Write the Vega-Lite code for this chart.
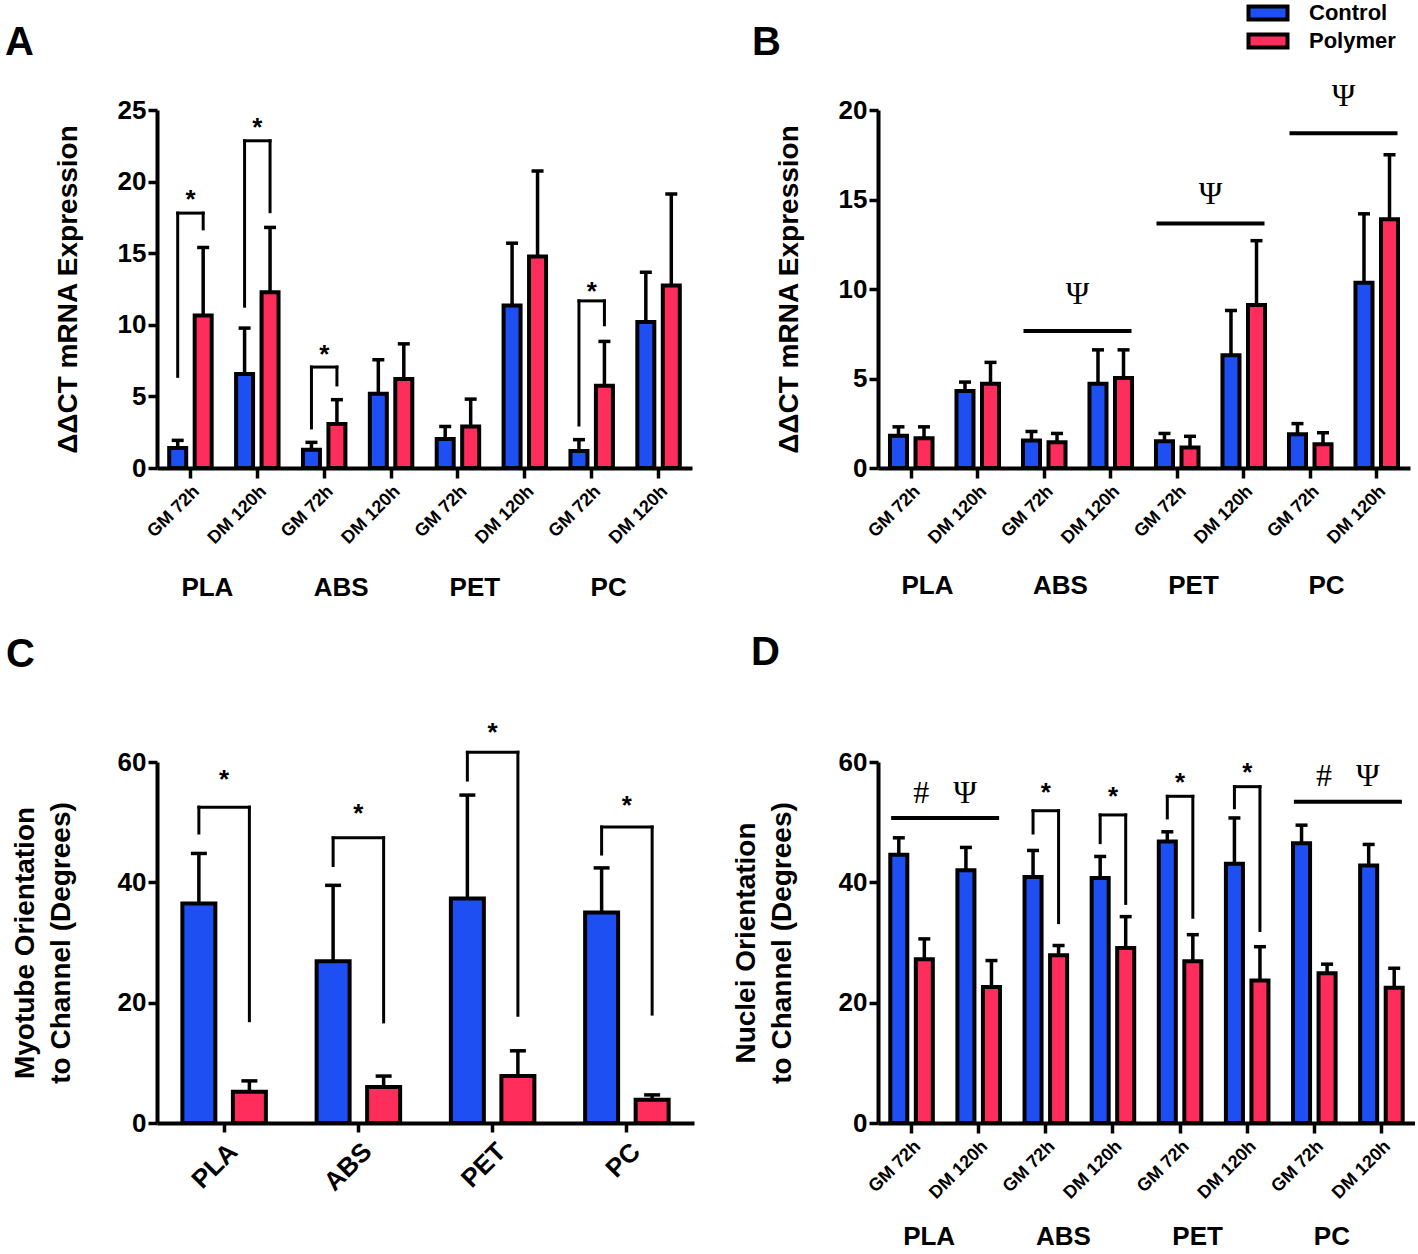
{
  "$schema": "https://vega.github.io/schema/vega-lite/v6.json",
  "padding": {"left": 5, "top": 2, "right": 0, "bottom": 0},
  "background": "white",
  "bounds": "flush",
  "columns": 2,
  "spacing": {"row": 294, "column": 184},
  "resolve": {"scale": {"xOffset": "independent"}},
  "datasets": {
    "mats": [{"material": "PLA"}, {"material": "ABS"}, {"material": "PET"}, {"material": "PC"}],
    "aBars": [
      {"cat": "PLA|GM 72h", "series": "Control", "value": 1.4, "err": 1.93},
      {"cat": "PLA|GM 72h", "series": "Polymer", "value": 10.65, "err": 15.4},
      {"cat": "PLA|DM 120h", "series": "Control", "value": 6.56, "err": 9.77},
      {"cat": "PLA|DM 120h", "series": "Polymer", "value": 12.28, "err": 16.8},
      {"cat": "ABS|GM 72h", "series": "Control", "value": 1.28, "err": 1.79},
      {"cat": "ABS|GM 72h", "series": "Polymer", "value": 3.07, "err": 4.77},
      {"cat": "ABS|DM 120h", "series": "Control", "value": 5.19, "err": 7.56},
      {"cat": "ABS|DM 120h", "series": "Polymer", "value": 6.21, "err": 8.67},
      {"cat": "PET|GM 72h", "series": "Control", "value": 2.02, "err": 2.9},
      {"cat": "PET|GM 72h", "series": "Polymer", "value": 2.9, "err": 4.81},
      {"cat": "PET|DM 120h", "series": "Control", "value": 11.35, "err": 15.7},
      {"cat": "PET|DM 120h", "series": "Polymer", "value": 14.77, "err": 20.74},
      {"cat": "PC|GM 72h", "series": "Control", "value": 1.19, "err": 1.98},
      {"cat": "PC|GM 72h", "series": "Polymer", "value": 5.74, "err": 8.84},
      {"cat": "PC|DM 120h", "series": "Control", "value": 10.19, "err": 13.67},
      {"cat": "PC|DM 120h", "series": "Polymer", "value": 12.74, "err": 19.14}
    ],
    "aLegs": [
      {"cat": "PLA|GM 72h", "series": "Control", "lo": 6.4, "hi": 17.8},
      {"cat": "PLA|GM 72h", "series": "Polymer", "lo": 16.7, "hi": 17.8},
      {"cat": "PLA|DM 120h", "series": "Control", "lo": 11.3, "hi": 22.85},
      {"cat": "PLA|DM 120h", "series": "Polymer", "lo": 17.9, "hi": 22.85},
      {"cat": "ABS|GM 72h", "series": "Control", "lo": 2.8, "hi": 7.05},
      {"cat": "ABS|GM 72h", "series": "Polymer", "lo": 5.8, "hi": 7.05},
      {"cat": "PC|GM 72h", "series": "Control", "lo": 3.0, "hi": 11.67},
      {"cat": "PC|GM 72h", "series": "Polymer", "lo": 10.0, "hi": 11.67}
    ],
    "aTops": [
      {"cat": "PLA|GM 72h", "top": 17.8, "star": 19.2},
      {"cat": "PLA|DM 120h", "top": 22.85, "star": 24.2},
      {"cat": "ABS|GM 72h", "top": 7.05, "star": 8.4},
      {"cat": "PC|GM 72h", "top": 11.67, "star": 12.8}
    ],
    "bBars": [
      {"cat": "PLA|GM 72h", "series": "Control", "value": 1.8, "err": 2.3},
      {"cat": "PLA|GM 72h", "series": "Polymer", "value": 1.66, "err": 2.3},
      {"cat": "PLA|DM 120h", "series": "Control", "value": 4.3, "err": 4.8},
      {"cat": "PLA|DM 120h", "series": "Polymer", "value": 4.7, "err": 5.9},
      {"cat": "ABS|GM 72h", "series": "Control", "value": 1.53, "err": 2.04},
      {"cat": "ABS|GM 72h", "series": "Polymer", "value": 1.44, "err": 1.93},
      {"cat": "ABS|DM 120h", "series": "Control", "value": 4.7, "err": 6.6},
      {"cat": "ABS|DM 120h", "series": "Polymer", "value": 5.03, "err": 6.6},
      {"cat": "PET|GM 72h", "series": "Control", "value": 1.49, "err": 1.93},
      {"cat": "PET|GM 72h", "series": "Polymer", "value": 1.15, "err": 1.77},
      {"cat": "PET|DM 120h", "series": "Control", "value": 6.3, "err": 8.8},
      {"cat": "PET|DM 120h", "series": "Polymer", "value": 9.1, "err": 12.7},
      {"cat": "PC|GM 72h", "series": "Control", "value": 1.88, "err": 2.48},
      {"cat": "PC|GM 72h", "series": "Polymer", "value": 1.33, "err": 1.97},
      {"cat": "PC|DM 120h", "series": "Control", "value": 10.35, "err": 14.2},
      {"cat": "PC|DM 120h", "series": "Polymer", "value": 13.9, "err": 17.5}
    ],
    "bPsi": [
      {"material": "ABS", "line": 7.65, "mark": 9.7, "label": "Ψ"},
      {"material": "PET", "line": 13.66, "mark": 15.3, "label": "Ψ"},
      {"material": "PC", "line": 18.7, "mark": 20.8, "label": "Ψ"}
    ],
    "cBars": [
      {"material": "PLA", "series": "Control", "value": 36.5, "err": 44.8},
      {"material": "PLA", "series": "Polymer", "value": 5.2, "err": 7.0},
      {"material": "ABS", "series": "Control", "value": 26.9, "err": 39.5},
      {"material": "ABS", "series": "Polymer", "value": 6.0, "err": 7.8},
      {"material": "PET", "series": "Control", "value": 37.3, "err": 54.5},
      {"material": "PET", "series": "Polymer", "value": 7.8, "err": 12.0},
      {"material": "PC", "series": "Control", "value": 35.0, "err": 42.4},
      {"material": "PC", "series": "Polymer", "value": 3.86, "err": 4.67}
    ],
    "cLegs": [
      {"material": "PLA", "series": "Control", "lo": 48.2, "hi": 52.5},
      {"material": "PLA", "series": "Polymer", "lo": 17.0, "hi": 52.5},
      {"material": "ABS", "series": "Control", "lo": 42.8, "hi": 47.4},
      {"material": "ABS", "series": "Polymer", "lo": 16.8, "hi": 47.4},
      {"material": "PET", "series": "Control", "lo": 57.0, "hi": 61.6},
      {"material": "PET", "series": "Polymer", "lo": 17.9, "hi": 61.6},
      {"material": "PC", "series": "Control", "lo": 44.7, "hi": 49.2},
      {"material": "PC", "series": "Polymer", "lo": 18.1, "hi": 49.2}
    ],
    "cTops": [
      {"material": "PLA", "top": 52.5, "star": 58.1},
      {"material": "ABS", "top": 47.4, "star": 52.6},
      {"material": "PET", "top": 61.6, "star": 66.0},
      {"material": "PC", "top": 49.2, "star": 53.9}
    ],
    "dBars": [
      {"cat": "PLA|GM 72h", "series": "Control", "value": 44.6, "err": 47.4},
      {"cat": "PLA|GM 72h", "series": "Polymer", "value": 27.2, "err": 30.6},
      {"cat": "PLA|DM 120h", "series": "Control", "value": 42.0, "err": 45.8},
      {"cat": "PLA|DM 120h", "series": "Polymer", "value": 22.6, "err": 27.0},
      {"cat": "ABS|GM 72h", "series": "Control", "value": 40.9, "err": 45.3},
      {"cat": "ABS|GM 72h", "series": "Polymer", "value": 27.9, "err": 29.5},
      {"cat": "ABS|DM 120h", "series": "Control", "value": 40.7, "err": 44.3},
      {"cat": "ABS|DM 120h", "series": "Polymer", "value": 29.1, "err": 34.3},
      {"cat": "PET|GM 72h", "series": "Control", "value": 46.8, "err": 48.4},
      {"cat": "PET|GM 72h", "series": "Polymer", "value": 26.9, "err": 31.3},
      {"cat": "PET|DM 120h", "series": "Control", "value": 43.1, "err": 50.7},
      {"cat": "PET|DM 120h", "series": "Polymer", "value": 23.7, "err": 29.3},
      {"cat": "PC|GM 72h", "series": "Control", "value": 46.5, "err": 49.5},
      {"cat": "PC|GM 72h", "series": "Polymer", "value": 24.9, "err": 26.4},
      {"cat": "PC|DM 120h", "series": "Control", "value": 42.8, "err": 46.3},
      {"cat": "PC|DM 120h", "series": "Polymer", "value": 22.5, "err": 25.7}
    ],
    "dLegs": [
      {"cat": "ABS|GM 72h", "series": "Control", "lo": 48.2, "hi": 51.9},
      {"cat": "ABS|GM 72h", "series": "Polymer", "lo": 33.3, "hi": 51.9},
      {"cat": "ABS|DM 120h", "series": "Control", "lo": 46.6, "hi": 51.2},
      {"cat": "ABS|DM 120h", "series": "Polymer", "lo": 36.5, "hi": 51.2},
      {"cat": "PET|GM 72h", "series": "Control", "lo": 50.7, "hi": 54.3},
      {"cat": "PET|GM 72h", "series": "Polymer", "lo": 34.2, "hi": 54.3},
      {"cat": "PET|DM 120h", "series": "Control", "lo": 52.4, "hi": 55.9},
      {"cat": "PET|DM 120h", "series": "Polymer", "lo": 32.0, "hi": 55.9}
    ],
    "dTops": [
      {"cat": "ABS|GM 72h", "top": 51.9, "star": 56.0},
      {"cat": "ABS|DM 120h", "top": 51.2, "star": 55.3},
      {"cat": "PET|GM 72h", "top": 54.3, "star": 57.6},
      {"cat": "PET|DM 120h", "top": 55.9, "star": 59.3}
    ],
    "dPsi": [
      {"material": "PLA", "line": 50.7, "mark": 54.9, "label": "#\u00a0\u00a0\u00a0Ψ"},
      {"material": "PC", "line": 53.4, "mark": 57.6, "label": "#\u00a0\u00a0\u00a0Ψ"}
    ]
  },
  "concat": [
    {
      "width": 535,
      "height": 358,
      "title": {"text": "A", "anchor": "start", "frame": "group", "dx": -152, "offset": 2, "baseline": "alphabetic"},
      "resolve": {"scale": {"x": "independent"}},
      "layer": [
        {
          "encoding": {
            "x": {"field": "cat", "type": "nominal", "scale": {"domain": ["PLA|GM 72h", "PLA|DM 120h", "ABS|GM 72h", "ABS|DM 120h", "PET|GM 72h", "PET|DM 120h", "PC|GM 72h", "PC|DM 120h"], "paddingInner": 0.365, "paddingOuter": 0.1825},
              "axis": {"orient": "bottom", "title": null, "labelExpr": "split(datum.label, '|')[1]", "labelAngle": -45, "labelFontSize": 18, "tickSize": 10, "labelPadding": 4, "labelDx": -10}},
            "xOffset": {"field": "series", "type": "nominal", "scale": {"domain": ["Control", "Polymer"], "paddingInner": 0.333}}
          },
          "layer": [
            {"data": {"name": "aBars"}, "mark": {"type": "rule", "color": "black", "strokeWidth": 3.5},
              "encoding": {"y": {"field": "value", "type": "quantitative", "scale": {"domain": [0, 25], "nice": false},
                "axis": {"values": [0, 5, 10, 15, 20, 25], "title": "ΔΔCT mRNA Expression", "titlePadding": 35}}, "y2": {"field": "err"}}},
            {"data": {"name": "aBars"}, "mark": {"type": "tick", "color": "black", "size": 12, "thickness": 3.5, "opacity": 1},
              "encoding": {"y": {"field": "err", "type": "quantitative"}}},
            {"data": {"name": "aBars"}, "mark": {"type": "bar", "stroke": "black", "strokeWidth": 4, "opacity": 1},
              "encoding": {"y": {"field": "value", "type": "quantitative"},
                "color": {"field": "series", "type": "nominal", "scale": {"domain": ["Control", "Polymer"], "range": ["#1d4ff2", "#ff2d5b"]},
                  "legend": {"orient": "none", "legendX": 1100, "legendY": -108, "title": null, "symbolType": "M-2.1667,-0.7222H2.1667V0.7222H-2.1667Z", "symbolSize": 324, "symbolStrokeColor": "black", "symbolStrokeWidth": 4, "symbolOpacity": 1, "labelFontSize": 22, "labelFontWeight": "bold", "labelColor": "black", "labelOffset": 30, "rowPadding": -2, "padding": 0}}}},
            {"data": {"name": "aLegs"}, "mark": {"type": "rule", "color": "black", "strokeWidth": 3, "strokeCap": "square"},
              "encoding": {"y": {"field": "lo", "type": "quantitative"}, "y2": {"field": "hi"}}},
            {"data": {"name": "aTops"}, "mark": {"type": "tick", "color": "black", "size": 28.5, "thickness": 3, "opacity": 1},
              "encoding": {"xOffset": null, "y": {"field": "top", "type": "quantitative"}}},
            {"data": {"name": "aTops"}, "mark": {"type": "text", "text": "*", "fontSize": 26, "fontWeight": "bold", "baseline": "middle", "dy": 7, "color": "black"},
              "encoding": {"xOffset": null, "y": {"field": "star", "type": "quantitative"}}}
          ]
        },
        {
          "data": {"name": "mats"},
          "mark": {"type": "text", "text": ""},
          "encoding": {
            "x": {"field": "material", "type": "nominal", "scale": {"domain": ["PLA", "ABS", "PET", "PC"], "paddingInner": 0, "paddingOuter": 0},
              "axis": {"orient": "bottom", "title": null, "ticks": false, "tickSize": 0, "domain": false, "labelAngle": 0, "labelFontSize": 26, "labelPadding": 106, "labelOffset": -17}},
            "y": {"datum": 0, "type": "quantitative"}
          }
        }
      ]
    },
    {
      "width": 532,
      "height": 358,
      "title": {"text": "B", "anchor": "start", "frame": "group", "dx": -126, "offset": -15, "baseline": "alphabetic"},
      "resolve": {"scale": {"x": "independent"}},
      "layer": [
        {
          "encoding": {
            "x": {"field": "cat", "type": "nominal", "scale": {"domain": ["PLA|GM 72h", "PLA|DM 120h", "ABS|GM 72h", "ABS|DM 120h", "PET|GM 72h", "PET|DM 120h", "PC|GM 72h", "PC|DM 120h"], "paddingInner": 0.36, "paddingOuter": 0.18},
              "axis": {"orient": "bottom", "title": null, "labelExpr": "split(datum.label, '|')[1]", "labelAngle": -45, "labelFontSize": 18, "tickSize": 10, "labelPadding": 4, "labelDx": -10}},
            "xOffset": {"field": "series", "type": "nominal", "scale": {"domain": ["Control", "Polymer"], "paddingInner": 0.333}}
          },
          "layer": [
            {"data": {"name": "bBars"}, "mark": {"type": "rule", "color": "black", "strokeWidth": 3.5},
              "encoding": {"y": {"field": "value", "type": "quantitative", "scale": {"domain": [0, 20], "nice": false},
                "axis": {"values": [0, 5, 10, 15, 20], "title": "ΔΔCT mRNA Expression", "titlePadding": 35}}, "y2": {"field": "err"}}},
            {"data": {"name": "bBars"}, "mark": {"type": "tick", "color": "black", "size": 12, "thickness": 3.5, "opacity": 1},
              "encoding": {"y": {"field": "err", "type": "quantitative"}}},
            {"data": {"name": "bBars"}, "mark": {"type": "bar", "stroke": "black", "strokeWidth": 4, "opacity": 1},
              "encoding": {"y": {"field": "value", "type": "quantitative"},
                "color": {"field": "series", "type": "nominal", "scale": {"domain": ["Control", "Polymer"], "range": ["#1d4ff2", "#ff2d5b"]}}}}
          ]
        },
        {
          "data": {"name": "bPsi"},
          "encoding": {
            "x": {"field": "material", "type": "nominal", "scale": {"domain": ["PLA", "ABS", "PET", "PC"], "paddingInner": 0, "paddingOuter": 0},
              "axis": {"orient": "bottom", "title": null, "ticks": false, "tickSize": 0, "domain": false, "labelAngle": 0, "labelFontSize": 26, "labelPadding": 104, "labelOffset": -17}}
          },
          "layer": [
            {"mark": {"type": "tick", "color": "black", "size": 108, "thickness": 4, "opacity": 1},
              "encoding": {"y": {"field": "line", "type": "quantitative"}}},
            {"mark": {"type": "text", "font": "Liberation Serif", "fontSize": 32, "baseline": "middle", "color": "black"},
              "encoding": {"y": {"field": "mark", "type": "quantitative"}, "text": {"field": "label"}}}
          ]
        }
      ]
    },
    {
      "width": 537,
      "height": 361,
      "title": {"text": "C", "anchor": "start", "frame": "group", "dx": -151, "offset": 13, "baseline": "alphabetic"},
      "encoding": {
        "x": {"field": "material", "type": "nominal", "scale": {"domain": ["PLA", "ABS", "PET", "PC"], "paddingInner": 0.378, "paddingOuter": 0.189},
          "axis": {"orient": "bottom", "title": null, "labelAngle": -45, "labelFontSize": 26, "tickSize": 9, "labelPadding": 6, "labelDx": -14}},
        "xOffset": {"field": "series", "type": "nominal", "scale": {"domain": ["Control", "Polymer"], "paddingInner": 0.347}}
      },
      "layer": [
        {"data": {"name": "cBars"}, "mark": {"type": "rule", "color": "black", "strokeWidth": 3.5},
          "encoding": {"y": {"field": "value", "type": "quantitative", "scale": {"domain": [0, 60], "nice": false},
            "axis": {"values": [0, 20, 40, 60], "title": ["Myotube Orientation", "to Channel (Degrees)"], "titleFontSize": 28, "titleLineHeight": 36, "titlePadding": 42}}, "y2": {"field": "err"}}},
        {"data": {"name": "cBars"}, "mark": {"type": "tick", "color": "black", "size": 16, "thickness": 3.5, "opacity": 1},
          "encoding": {"y": {"field": "err", "type": "quantitative"}}},
        {"data": {"name": "cBars"}, "mark": {"type": "bar", "stroke": "black", "strokeWidth": 4, "opacity": 1},
          "encoding": {"y": {"field": "value", "type": "quantitative"},
            "color": {"field": "series", "type": "nominal", "scale": {"domain": ["Control", "Polymer"], "range": ["#1d4ff2", "#ff2d5b"]}}}},
        {"data": {"name": "cLegs"}, "mark": {"type": "rule", "color": "black", "strokeWidth": 3, "strokeCap": "square"},
          "encoding": {"y": {"field": "lo", "type": "quantitative"}, "y2": {"field": "hi"}}},
        {"data": {"name": "cTops"}, "mark": {"type": "tick", "color": "black", "size": 53.5, "thickness": 3, "opacity": 1},
          "encoding": {"xOffset": null, "y": {"field": "top", "type": "quantitative"}}},
        {"data": {"name": "cTops"}, "mark": {"type": "text", "text": "*", "fontSize": 26, "fontWeight": "bold", "baseline": "middle", "dy": 7, "color": "black"},
          "encoding": {"xOffset": null, "y": {"field": "star", "type": "quantitative"}}}
      ]
    },
    {
      "width": 537,
      "height": 361,
      "title": {"text": "D", "anchor": "start", "frame": "group", "dx": -127, "offset": 44, "baseline": "alphabetic"},
      "resolve": {"scale": {"x": "independent"}},
      "layer": [
        {
          "encoding": {
            "x": {"field": "cat", "type": "nominal", "scale": {"domain": ["PLA|GM 72h", "PLA|DM 120h", "ABS|GM 72h", "ABS|DM 120h", "PET|GM 72h", "PET|DM 120h", "PC|GM 72h", "PC|DM 120h"], "paddingInner": 0.366, "paddingOuter": 0.183},
              "axis": {"orient": "bottom", "title": null, "labelExpr": "split(datum.label, '|')[1]", "labelAngle": -45, "labelFontSize": 18, "tickSize": 10, "labelPadding": 4, "labelDx": -10}},
            "xOffset": {"field": "series", "type": "nominal", "scale": {"domain": ["Control", "Polymer"], "paddingInner": 0.333}}
          },
          "layer": [
            {"data": {"name": "dBars"}, "mark": {"type": "rule", "color": "black", "strokeWidth": 3.5},
              "encoding": {"y": {"field": "value", "type": "quantitative", "scale": {"domain": [0, 60], "nice": false},
                "axis": {"values": [0, 20, 40, 60], "title": ["Nuclei Orientation", "to Channel (Degrees)"], "titleFontSize": 28, "titleLineHeight": 36, "titlePadding": 42}}, "y2": {"field": "err"}}},
            {"data": {"name": "dBars"}, "mark": {"type": "tick", "color": "black", "size": 12, "thickness": 3.5, "opacity": 1},
              "encoding": {"y": {"field": "err", "type": "quantitative"}}},
            {"data": {"name": "dBars"}, "mark": {"type": "bar", "stroke": "black", "strokeWidth": 4, "opacity": 1},
              "encoding": {"y": {"field": "value", "type": "quantitative"},
                "color": {"field": "series", "type": "nominal", "scale": {"domain": ["Control", "Polymer"], "range": ["#1d4ff2", "#ff2d5b"]}}}},
            {"data": {"name": "dLegs"}, "mark": {"type": "rule", "color": "black", "strokeWidth": 3, "strokeCap": "square"},
              "encoding": {"y": {"field": "lo", "type": "quantitative"}, "y2": {"field": "hi"}}},
            {"data": {"name": "dTops"}, "mark": {"type": "tick", "color": "black", "size": 28.5, "thickness": 3, "opacity": 1},
              "encoding": {"xOffset": null, "y": {"field": "top", "type": "quantitative"}}},
            {"data": {"name": "dTops"}, "mark": {"type": "text", "text": "*", "fontSize": 26, "fontWeight": "bold", "baseline": "middle", "dy": 7, "color": "black"},
              "encoding": {"xOffset": null, "y": {"field": "star", "type": "quantitative"}}}
          ]
        },
        {
          "data": {"name": "dPsi"},
          "encoding": {
            "x": {"field": "material", "type": "nominal", "scale": {"domain": ["PLA", "ABS", "PET", "PC"], "paddingInner": 0, "paddingOuter": 0},
              "axis": {"orient": "bottom", "title": null, "ticks": false, "tickSize": 0, "domain": false, "labelAngle": 0, "labelFontSize": 26, "labelPadding": 100, "labelOffset": -16}}
          },
          "layer": [
            {"mark": {"type": "tick", "color": "black", "size": 108, "thickness": 4, "opacity": 1},
              "encoding": {"y": {"field": "line", "type": "quantitative"}}},
            {"mark": {"type": "text", "font": "Liberation Serif", "fontSize": 32, "baseline": "middle", "color": "black"},
              "encoding": {"y": {"field": "mark", "type": "quantitative"}, "text": {"field": "label"}}}
          ]
        }
      ]
    }
  ],
  "config": {
    "font": "Liberation Sans",
    "view": {"stroke": null},
    "title": {"fontSize": 40, "fontWeight": "bold", "color": "black", "font": "Liberation Sans"},
    "axis": {"domainColor": "black", "domainWidth": 4, "tickColor": "black", "tickWidth": 3.5, "labelColor": "black", "labelFontWeight": "bold", "titleColor": "black", "titleFontWeight": "bold", "grid": false, "labelFont": "Liberation Sans", "titleFont": "Liberation Sans"},
    "axisY": {"tickSize": 9, "labelFontSize": 26, "labelPadding": 2, "titleFontSize": 28},
    "legend": {"labelFont": "Liberation Sans"}
  }
}
